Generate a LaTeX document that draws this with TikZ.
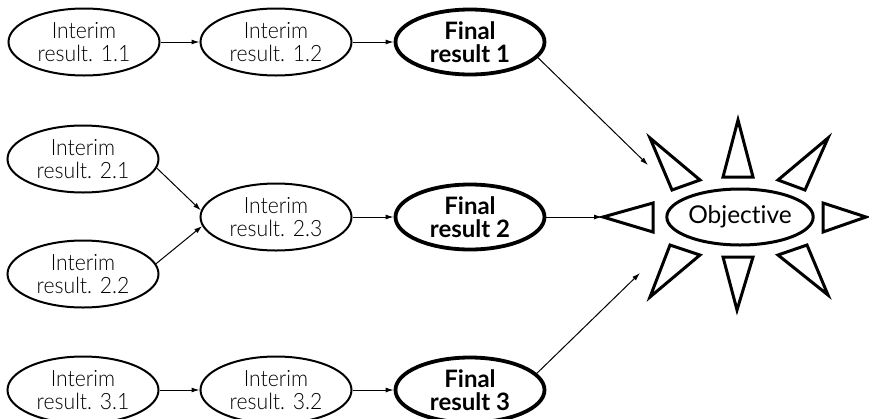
\documentclass[tikz,border=0pt]{standalone}
\usepackage{fontspec}
\setmainfont{Lato}[Ligatures=NoCommon]
\newfontfamily\thinf{Lato Light}[Ligatures=NoCommon,FakeStretch=0.94]
\usetikzlibrary{shapes.geometric,arrows.meta}
\begin{document}
\begin{tikzpicture}[x=1pt,y=-1pt,
  interim/.style={ellipse,draw,line width=2pt,minimum width=151pt,minimum height=67pt,inner sep=0pt,align=center,font=\thinf\fontsize{22.5}{23}\selectfont},
  final/.style={ellipse,draw,line width=3.8pt,minimum width=149pt,minimum height=65pt,inner sep=0pt,align=center,font=\bfseries\fontsize{24}{23.5}\selectfont},
  objective/.style={ellipse,draw,line width=3pt,minimum width=133pt,minimum height=56pt,inner sep=0pt,font=\fontsize{24.5}{26}\selectfont},
  conn/.style={line width=1pt,-{Latex[length=8pt,width=5pt]}},
  spike/.style={draw,line width=3pt,line join=miter}]
\useasboundingbox (0,0) rectangle (869,418);

\node[interim] (i11) at (84,42) {Interim\\result. 1.1};
\node[interim] (i12) at (276,42) {Interim\\result. 1.2};
\node[final] (f1) at (470,42) {Final\\result 1};

\node[interim] (i21) at (83,159) {Interim\\result. 2.1};
\node[interim] (i22) at (83,274) {Interim\\result. 2.2};
\node[interim] (i23) at (276,217) {Interim\\result. 2.3};
\node[final] (f2) at (470,217) {Final\\result 2};

\node[interim] (i31) at (83,390) {Interim\\result. 3.1};
\node[interim] (i32) at (276,390) {Interim\\result. 3.2};
\node[final] (f3) at (470,390) {Final\\result 3};

\node[objective] (obj) at (740,217) {Objective};

\coordinate (t1) at (648,165);
\coordinate (t2) at (602,217);
\coordinate (t3) at (640,273);

\draw[conn] (i11) -- (i12);
\draw[conn] (i12) -- (f1);
\draw[conn] (i21.-7) -- (i23.175);
\draw[conn] (i22.8) -- (i23.-173);
\draw[conn] (i23) -- (f2);
\draw[conn] (i31) -- (i32);
\draw[conn] (i32) -- (f3);
\draw[conn] (f1.-13) -- (t1);
\draw[conn] (f2) -- (t2);
\draw[conn] (f3.14) -- (t3);

% spikes around the objective
\draw[spike] (738,120) -- (723,177) -- (753,177) -- cycle;
\draw[spike] (737,310) -- (723,257) -- (753,257) -- cycle;
\draw[spike] (603,217) -- (653,203) -- (653,232) -- cycle;
\draw[spike] (866,217) -- (823,203) -- (823,232) -- cycle;
\draw[spike] (650,138) -- (700,180) -- (672,190) -- cycle;
\draw[spike] (828,138) -- (778,180) -- (805,190) -- cycle;
\draw[spike] (650,297) -- (700,255) -- (670,245) -- cycle;
\draw[spike] (828,295) -- (778,255) -- (807,245) -- cycle;
\end{tikzpicture}
\end{document}
